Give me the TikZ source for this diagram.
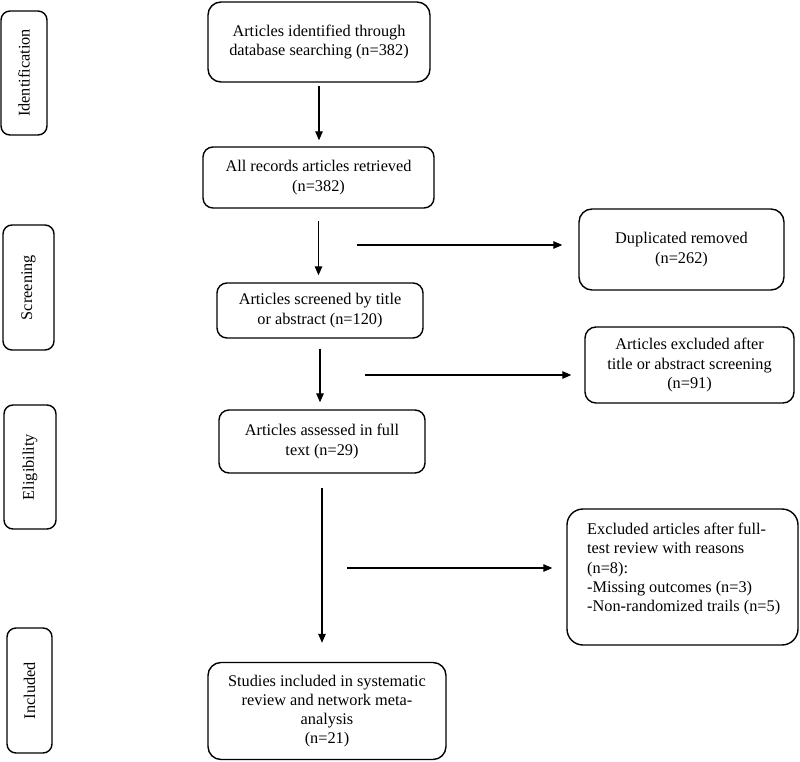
\documentclass[tikz,border=0pt]{standalone}
\usepackage{fontspec}
\setmainfont{Liberation Serif}
\usetikzlibrary{arrows.meta}
\begin{document}
\begin{tikzpicture}[x=1pt,y=-1pt,
  box/.style={draw, line width=1.4pt, rounded corners=11pt, align=center,
    font=\fontsize{16.3}{19.2}\selectfont, inner sep=0pt},
  sidebox/.style={draw, line width=1.4pt, rounded corners=9pt, align=center,
    font=\fontsize{16.3}{19.2}\selectfont, inner sep=0pt, rotate=90},
  txt/.style={align=left, font=\fontsize{16.3}{19.2}\selectfont, inner sep=0pt},
  arr/.style={-{Triangle[length=9pt,width=7.5pt]}, line width=1.3pt}]
\useasboundingbox[fill=white] (0,0) rectangle (800,762);

% side labels
\node[sidebox, minimum width=124pt, minimum height=46pt] (ident) at (24,73) {Identification};
\node[sidebox, minimum width=125pt, minimum height=51pt] (scr) at (28.5,287.5) {Screening};
\node[sidebox, minimum width=124pt, minimum height=52pt] (elig) at (30,467) {Eligibility};
\node[sidebox, minimum width=125pt, minimum height=45pt] (incl) at (29.5,690.5) {Included};

% main column
\node[box, rounded corners=13pt, minimum width=222pt, minimum height=80pt] (b1) at (319,42)
  {Articles identified through\\database searching (n=382)};
\node[box, rounded corners=10pt, minimum width=231pt, minimum height=61pt] (b2) at (318.5,177.5)
  {All records articles retrieved\\(n=382)};
\node[box, rounded corners=10pt, minimum width=206pt, minimum height=55pt] (b3) at (320,310.5)
  {Articles screened by title\\or abstract (n=120)};
\node[box, rounded corners=10pt, minimum width=206pt, minimum height=63pt] (b4) at (322,441.5)
  {Articles assessed in full\\text (n=29)};
\node[box, rounded corners=13pt, minimum width=238pt, minimum height=97pt] (b5) at (327,711)
  {Studies included in systematic\\review and network meta-\\analysis\\(n=21)};

% right column
\node[box, rounded corners=13pt, minimum width=205pt, minimum height=81pt] (dup) at (681.5,249.5)
  {Duplicated removed\\(n=262)};
\node[box, rounded corners=11pt, minimum width=209pt, minimum height=76pt] (exc2) at (689.5,365)
  {Articles excluded after\\title or abstract screening\\(n=91)};
\node[box, rounded corners=16pt, minimum width=231pt, minimum height=136pt] (exc3) at (682.5,577) {};
\node[txt, anchor=north west] (exc3t) at (587,523)
  {Excluded articles after full-\\test review with reasons\\(n=8):\\-Missing outcomes (n=3)\\-Non-randomized trails (n=5)};

% vertical arrows
\draw[arr, shorten <=3pt, shorten >=6pt] (b1.south) -- (b1.south |- b2.north);
\draw[arr, shorten <=12pt, shorten >=7pt] (b2.south) -- (b2.south |- b3.north);
\draw[arr, shorten <=10pt, shorten >=7pt] (b3.south) -- (b3.south |- b4.north);
\draw[arr, shorten <=14pt, shorten >=19pt] (b4.south) -- (b4.south |- b5.north);

% horizontal arrows
\coordinate (h1) at (357,245);
\coordinate (h2) at (365,375);
\coordinate (h3) at (347,568);
\draw[arr, shorten >=16pt] (h1) -- (h1 -| dup.west);
\draw[arr, shorten >=13pt] (h2) -- (h2 -| exc2.west);
\draw[arr, shorten >=14pt] (h3) -- (h3 -| exc3.west);
\end{tikzpicture}
\end{document}
